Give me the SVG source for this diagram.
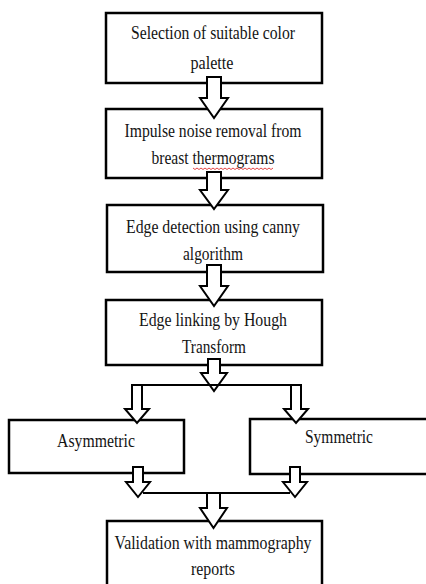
<svg xmlns="http://www.w3.org/2000/svg" width="426" height="584" viewBox="0 0 426 584">
<style>
.box{fill:#fff;stroke:#000;stroke-width:2.5}
.t{font-family:"Liberation Serif","Times New Roman",serif;font-size:19px;fill:#141414;text-anchor:middle}
.arr{fill:#fff;stroke:#000;stroke-width:2;stroke-linejoin:miter}
.ln{fill:none;stroke:#000;stroke-width:2.2}
</style>
<rect width="426" height="584" fill="#fff"/>
<g id="n1">
<rect class="box" x="106" y="13" width="216" height="70"/>
<text class="t" x="213" y="39" textLength="164" lengthAdjust="spacingAndGlyphs">Selection of suitable color</text>
<text class="t" x="212" y="69" textLength="43" lengthAdjust="spacingAndGlyphs">palette</text>
</g>
<g id="n2">
<rect class="box" x="106" y="109" width="216" height="69"/>
<text class="t" x="213" y="137" textLength="177" lengthAdjust="spacingAndGlyphs">Impulse noise removal  from</text>
<text class="t" x="213" y="164" textLength="123" lengthAdjust="spacingAndGlyphs">breast thermograms</text>
<path d="M193 168 l2 1.5 l2 -1.5 l2 1.5 l2 -1.5 l2 1.5 l2 -1.5 l2 1.5 l2 -1.5 l2 1.5 l2 -1.5 l2 1.5 l2 -1.5 l2 1.5 l2 -1.5 l2 1.5 l2 -1.5 l2 1.5 l2 -1.5 l2 1.5 l2 -1.5 l2 1.5 l2 -1.5 l2 1.5 l2 -1.5 l2 1.5 l2 -1.5 l2 1.5 l2 -1.5 l2 1.5 l2 -1.5 l2 1.5 l2 -1.5 l2 1.5 l2 -1.5 l2 1.5 l2 -1.5 l2 1.5 l2 -1.5 l2 1.5 l2 -1.5" fill="none" stroke="#e03030" stroke-width="0.9"/>
</g>
<g id="n3">
<rect class="box" x="107" y="205" width="216" height="67"/>
<text class="t" x="213" y="233" textLength="174" lengthAdjust="spacingAndGlyphs">Edge detection using canny</text>
<text class="t" x="213" y="260" textLength="60" lengthAdjust="spacingAndGlyphs">algorithm</text>
</g>
<g id="n4">
<rect class="box" x="106" y="300" width="216" height="65"/>
<text class="t" x="213" y="326" textLength="148" lengthAdjust="spacingAndGlyphs">Edge linking by Hough</text>
<text class="t" x="214" y="353" textLength="64" lengthAdjust="spacingAndGlyphs">Transform</text>
</g>
<g id="n5">
<rect class="box" x="9" y="420" width="175" height="53"/>
<text class="t" x="96" y="447" textLength="78" lengthAdjust="spacingAndGlyphs">Asymmetric</text>
</g>
<g id="n6">
<rect class="box" x="250" y="419" width="185" height="55"/>
<text class="t" x="339" y="443" textLength="68" lengthAdjust="spacingAndGlyphs">Symmetric</text>
</g>
<g id="n7">
<rect class="box" x="107" y="521" width="215" height="80"/>
<text class="t" x="213" y="549" textLength="197" lengthAdjust="spacingAndGlyphs">Validation with mammography</text>
<text class="t" x="213" y="575" textLength="44" lengthAdjust="spacingAndGlyphs">reports</text>
</g>
<g id="connectors">
<polygon class="arr" points="207,77 221,77 221,98 228,98 214,118 200,98 207,98"/>
<polygon class="arr" points="207,172 221,172 221,190 228,190 214,209 200,190 207,190"/>
<polygon class="arr" points="207,265 221,265 221,286 228,286 214,306 200,286 207,286"/>
<polygon class="arr" points="208,359 220,359 220,373 227,373 214,391 201,373 208,373"/>
<line class="ln" x1="132" y1="385" x2="302" y2="385"/>
<polygon class="arr" points="132,385 142,385 142,409 149,409 137,423 125,409 132,409"/>
<polygon class="arr" points="291,385 301,385 301,409 308,409 296,423 284,409 291,409"/>
<line class="ln" x1="143" y1="493" x2="290" y2="493"/>
<polygon class="arr" points="133,467 143,467 143,482 150,482 138,497 126,482 133,482"/>
<polygon class="arr" points="290,467 300,467 300,482 307,482 295,497 283,482 290,482"/>
<polygon class="arr" points="207,493 220,493 220,508 227,508 213.5,528 200,508 207,508"/>
</g>
</svg>
